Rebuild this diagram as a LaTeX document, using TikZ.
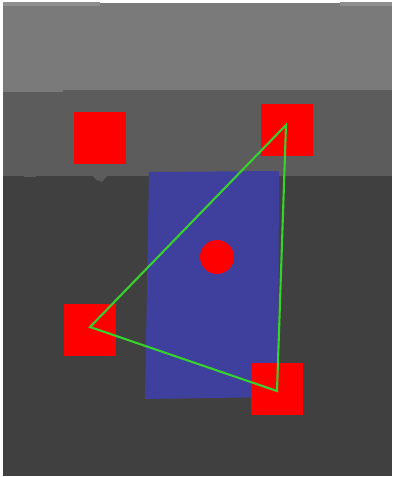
\documentclass[tikz,border=0pt]{standalone}
\begin{document}
\begin{tikzpicture}[x=1pt,y=-1pt,
  redsq/.style={fill=red,draw=none},
  edge/.style={draw={rgb,255:red,55;green,210;blue,45},line width=2.1pt,line join=miter}]
\definecolor{topgray}{RGB}{122,122,122}
\definecolor{stripgray}{RGB}{142,142,142}
\definecolor{midgray}{RGB}{92,92,92}
\definecolor{darkgray2}{RGB}{64,64,64}
\definecolor{bluebox}{RGB}{63,63,158}
\useasboundingbox (0,0) rectangle (392,477);
\fill[white] (0,0) rectangle (392,477);
% background bands
\fill[darkgray2] (3,3) rectangle (392,476);
\fill[midgray] (3,89) rectangle (392,176);
\fill[topgray] (3,3) rectangle (392,90);
\fill[topgray] (3,89) rectangle (63,92);
\fill[stripgray] (3,2) rectangle (100,6);
\fill[stripgray] (340,2) rectangle (392,6);
\fill[midgray] (85,175) -- (108,175) -- (102,182) -- (97,180) -- (92,175) -- cycle;
\fill[midgray] (24,175) rectangle (36,177);
% blue box
\fill[bluebox] (149,172) -- (279,171) -- (278,397) -- (145,399) -- cycle;
% red markers
\node[redsq,minimum size=52pt,inner sep=0pt] (tl) at (100,138) {};
\node[redsq,minimum size=52pt,inner sep=0pt] (tr) at (287,130) {};
\node[redsq,minimum size=52pt,inner sep=0pt] (lf) at (90,330) {};
\node[redsq,minimum size=52pt,inner sep=0pt] (br) at (277,389) {};
\node[circle,fill=red,minimum size=34pt,inner sep=0pt] (ctr) at (217,257) {};
% triangle
\coordinate (a) at (286,125);
\coordinate (b) at (90,327);
\coordinate (c) at (277,391);
\draw[edge] (a) -- (b) -- (c) -- cycle;
\end{tikzpicture}
\end{document}
